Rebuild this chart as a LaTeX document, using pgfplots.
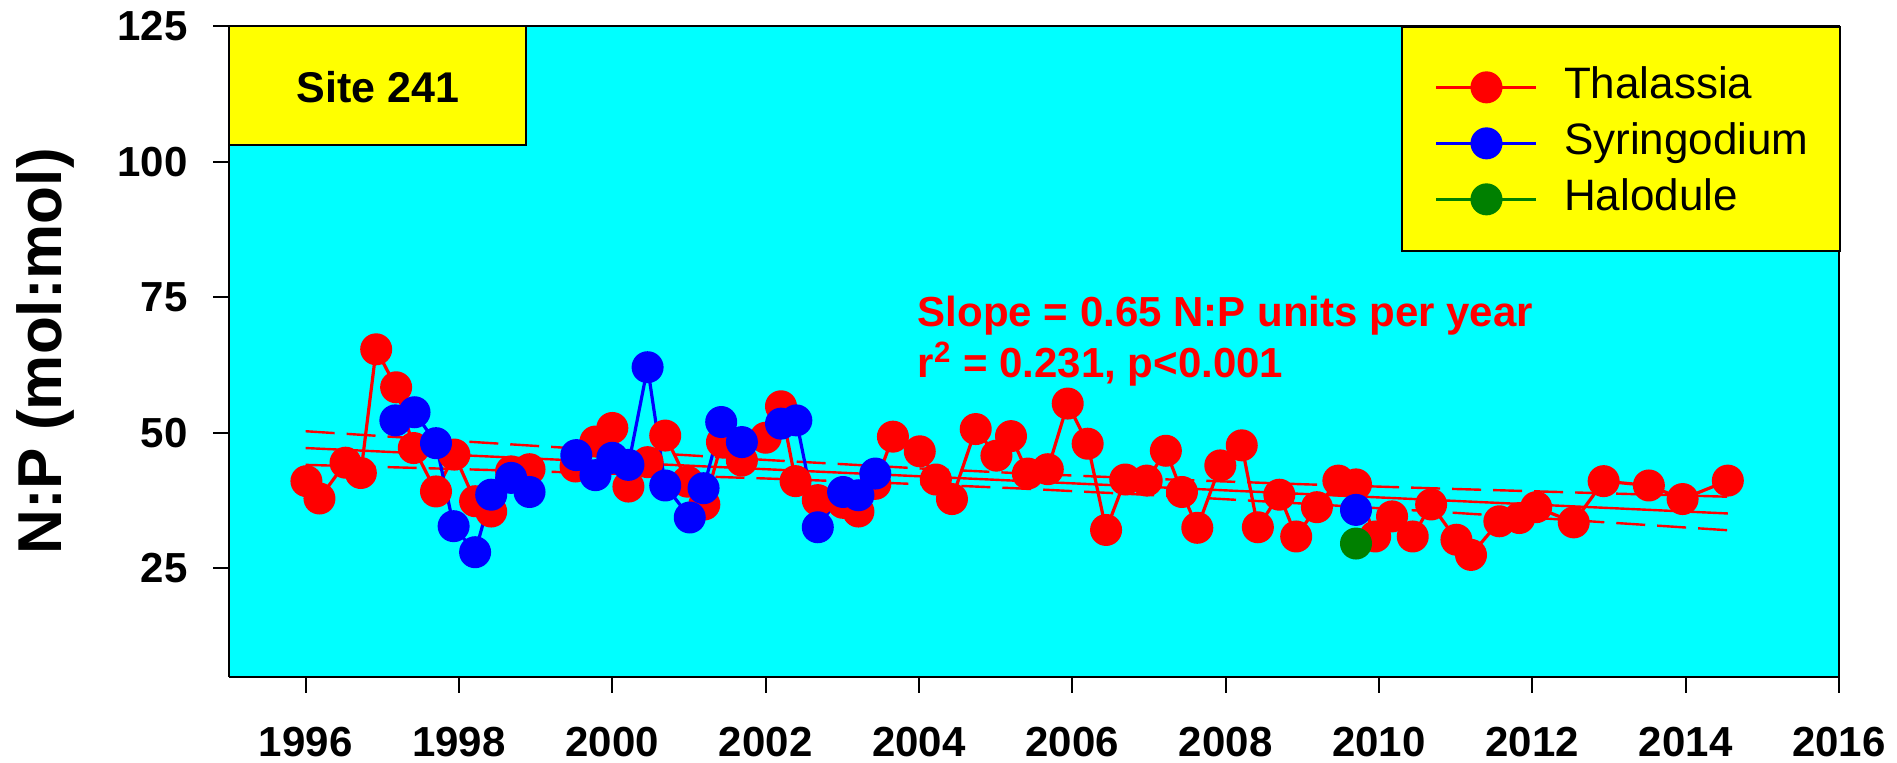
\documentclass[border=0pt]{standalone}
\usepackage{pgfplots}
\pgfplotsset{compat=1.18}
\usepackage{fontspec}
\setmainfont{Liberation Sans}
\definecolor{mygreen}{rgb}{0,0.5,0}
\definecolor{bgcyan}{rgb}{0,1,1}
\definecolor{boxyellow}{rgb}{1,1,0}
\definecolor{pred}{rgb}{1,0,0}
\definecolor{pblue}{rgb}{0,0,1}
\begin{document}
\begin{tikzpicture}
\begin{axis}[
 at={(0,0)}, anchor=south west,
 scale only axis, width=805pt, height=325.5pt,
 xmin=1995, xmax=2016, ymin=5, ymax=125,
 axis background/.style={fill=bgcyan},
 axis x line*=bottom, axis y line*=left,
 axis line style={line width=1pt, -},
 xtick={1996,1998,2000,2002,2004,2006,2008,2010,2012,2014,2016}, ytick={25,50,75,100,125},
 minor tick num=0,
 tick align=outside, major tick length=8pt,
 tick style={line width=1pt, black},
 /pgf/number format/assume math mode=true,
 /pgf/number format/1000 sep={},
 ticklabel style={font=\fontsize{21}{25}\selectfont\bfseries},
 xticklabel style={anchor=base, yshift=-32pt},
 yticklabel style={anchor=east, inner sep=0pt, xshift=-12.5pt},
 clip=false,
 legend style={at={(0.749,0.938)}, anchor=north west, draw=none, fill=none,
   inner sep=0pt, outer sep=0pt, font=\fontsize{22}{26}\selectfont,
   row sep=7pt, nodes={inner sep=0pt, text height=16pt, text depth=5pt},
   /tikz/every odd column/.style={column sep=13pt}},
 legend cell align=left,
 legend image code/.code={\draw[mark repeat=2,mark phase=2,#1] plot coordinates {(0pt,0pt) (25pt,0pt) (50pt,0pt)};},
 thal/.style={pred, line width=1.6pt, mark=*, mark size=7.2pt, mark options={solid, fill=pred, draw=pred}},
 syr/.style={pblue, line width=1.6pt, mark=*, mark size=7.2pt, mark options={solid, fill=pblue, draw=pblue}},
 hal/.style={mygreen, line width=1.6pt, mark=*, mark size=7.2pt, mark options={solid, fill=mygreen, draw=mygreen}},
]
% regression line and 95% confidence band
\addplot[pred, line width=1.2pt, forget plot] coordinates {(1996,47.2) (2014.55,35.14)};
\addplot[pred, line width=1.2pt, dash pattern=on 14.5pt off 6pt, forget plot] coordinates {
(1996,50.30) (1998,48.48) (2000,46.71) (2002,45.01) (2004,43.45) (2005.3,42.56)
(2007,41.54) (2009,40.53) (2011,39.65) (2013,38.83) (2014.55,38.23)};
\addplot[pred, line width=1.2pt, dash pattern=on 14.5pt off 6pt, forget plot] coordinates {
(1996,44.10) (1998,43.32) (2000,42.49) (2002,41.59) (2004,40.55) (2005.3,39.76)
(2007,38.56) (2009,36.97) (2011,35.25) (2013,33.47) (2014.55,32.05)};
% Thalassia
\addplot[thal] coordinates {
(1996.01,41.1) (1996.18,37.9) (1996.52,44.5) (1996.72,42.6) (1996.92,65.4)
(1997.18,58.4) (1997.41,47.2) (1997.70,39.2) (1997.94,46.0) (1998.21,37.4)
(1998.42,35.5) (1998.68,42.9) (1998.92,43.3)};
\addlegendentry{Thalassia}
\addplot[thal, forget plot] coordinates {
(1999.52,43.8) (1999.78,48.4) (2000.00,50.9) (2000.21,40.1) (2000.46,44.6)
(2000.69,49.5) (2000.98,41.0) (2001.20,36.8) (2001.43,48.3) (2001.69,44.9)
(2002.00,49.1) (2002.20,54.9) (2002.39,41.1) (2002.68,37.6) (2003.01,37.1)
(2003.21,35.5) (2003.43,40.6) (2003.66,49.3) (2004.01,46.6) (2004.22,41.4)
(2004.43,37.8) (2004.74,50.7) (2005.01,45.8) (2005.20,49.4) (2005.42,42.5)
(2005.68,43.3) (2005.94,55.4) (2006.20,48.0) (2006.44,32.1) (2006.69,41.4)
(2006.97,41.2) (2007.22,46.7) (2007.43,39.1) (2007.63,32.5) (2007.93,44.0)
(2008.21,47.7) (2008.42,32.6) (2008.70,38.6) (2008.92,30.9) (2009.19,36.3)
(2009.47,41.2) (2009.70,40.5) (2009.95,30.9) (2010.17,34.6) (2010.44,30.9)
(2010.68,36.8) (2011.01,30.3) (2011.20,27.5) (2011.57,33.7) (2011.83,34.3)
(2012.05,36.3) (2012.54,33.5) (2012.93,41.1) (2013.52,40.3) (2013.96,37.8)
(2014.55,41.2)};
% Syringodium
\addplot[syr] coordinates {
(1997.17,52.3) (1997.42,53.8) (1997.70,48.1) (1997.93,32.8) (1998.21,28.0)
(1998.42,38.6) (1998.68,41.7) (1998.92,39.1)};
\addlegendentry{Syringodium}
\addplot[syr, forget plot] coordinates {
(1999.53,45.9) (1999.78,42.2) (2000.00,45.4) (2000.21,44.1) (2000.46,62.1)
(2000.69,40.3) (2001.01,34.4) (2001.19,39.8) (2001.42,52.0) (2001.69,48.3)};
\addplot[syr, forget plot] coordinates {
(2002.20,51.7) (2002.40,52.3) (2002.68,32.6) (2003.01,39.1) (2003.21,38.5)
(2003.43,42.5)};
\addplot[syr, forget plot] coordinates {(2009.70,35.8)};
% Halodule
\addplot[hal] coordinates {(2009.70,29.6)};
\addlegendentry{Halodule}
% frame, boxes and texts
\draw[line width=0.6pt] (rel axis cs:0,1) -- (rel axis cs:1,1) -- (rel axis cs:1,0);
\draw[line width=1pt, fill=boxyellow] (axis cs:1995,125) rectangle (axis cs:1998.87,103);
\node[anchor=base, inner sep=0pt, font=\fontsize{21.5}{26}\selectfont\bfseries] at (axis cs:1996.94,110.96) {Site 241};
\draw[line width=1pt, fill=boxyellow] (axis cs:2010.3,124.8) rectangle (axis cs:2016.01,83.46);
\node[anchor=base west, inner sep=0pt, text=pred, font=\fontsize{21}{25}\selectfont\bfseries] at (axis cs:2003.98,69.67) {Slope = 0.65 N:P units per year};
\node[anchor=base west, inner sep=0pt, text=pred, font=\fontsize{21}{25}\selectfont\bfseries] at (axis cs:2003.98,60.25) {r\textsuperscript{2} = 0.231, p<0.001};
\node[xshift=-83.5pt, rotate=90, anchor=base, inner sep=0pt, font=\fontsize{31}{36}\selectfont\bfseries] at (rel axis cs:0,0.5) {N:P (mol:mol)};
\end{axis}
\pgfresetboundingbox
\path (-114.5pt,-43pt) rectangle (834pt,338.5pt);
\end{tikzpicture}
\end{document}
